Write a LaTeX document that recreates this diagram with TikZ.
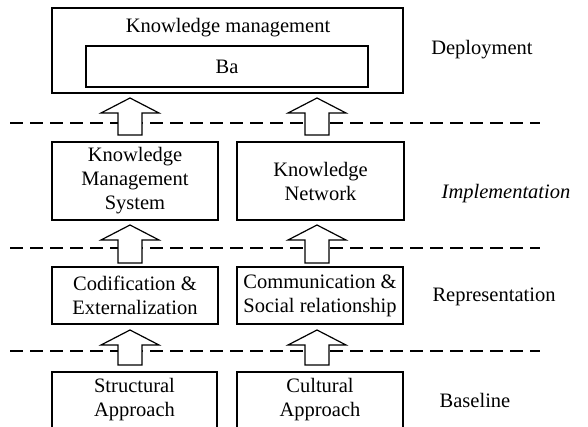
\documentclass[tikz,border=0pt]{standalone}
\usepackage{fontspec}
\setmainfont{Liberation Serif}
\usetikzlibrary{calc}

% outlined upward block arrow from a base coordinate to a tip coordinate
\newcommand{\blockup}[2]{%
  \draw[uparrow] let \p1=(#1), \p2=(#2) in
    (\x1-12pt,\y1) -- (\x1-12pt,\y2-15pt) -- (\x1-29pt,\y2-15pt) -- (\x2,\y2)
    -- (\x1+29pt,\y2-15pt) -- (\x1+12pt,\y2-15pt) -- (\x1+12pt,\y1) -- cycle;}

\begin{document}
\begin{tikzpicture}[x=1pt,y=-1pt,
  txt/.style={font=\fontsize{20.5}{24}\selectfont, align=center, inner sep=0pt},
  box/.style={txt, draw, line width=1.2pt},
  layer/.style={line width=2.8pt, dash pattern=on 13pt off 7pt},
  uparrow/.style={draw, line width=1.2pt, fill=white, line join=miter},
  tier/.style={txt}]
\useasboundingbox (0,0) rectangle (588,426);
\clip (0,0) rectangle (588,426);

% layer separators
\coordinate (s1l) at (10,123);  \coordinate (s1r) at (540,123);
\coordinate (s2l) at (10,248);  \coordinate (s2r) at (540,248);
\coordinate (s3l) at (10,351);  \coordinate (s3r) at (540,351);
\draw[layer] (s1l) -- (s1r);
\draw[layer] (s2l) -- (s2r);
\draw[layer] (s3l) -- (s3r);

% deployment
\node[box, minimum width=351pt, minimum height=85pt] (km) at (227.5,50.5) {};
\node[txt] (kmt) at (228,28) {Knowledge management};
\node[box, minimum width=282pt, minimum height=41pt] (ba) at (227,66.5) {Ba};

% implementation
\node[box, minimum width=166pt, minimum height=78pt] (kms) at (135,181)
  {Knowledge\\Management\\System};
\node[box, minimum width=167pt, minimum height=78pt] (kn) at (320.5,181)
  {Knowledge\\Network};

% representation
\node[box, minimum width=166pt, minimum height=57pt] (cod) at (135,295.5)
  {Codification \&\\Externalization};
\node[box, minimum width=166pt, minimum height=57pt] (com) at (320,295.5)
  {Communication \&\\Social relationship};

% baseline
\node[box, minimum width=165pt, minimum height=56pt] (str) at (134.5,400)
  {Structural\\Approach};
\node[box, minimum width=166pt, minimum height=56pt] (cul) at (320,400)
  {Cultural\\Approach};

% arrows between layers
\coordinate (a1b) at (130,135); \coordinate (a1t) at (130,98);
\coordinate (a2b) at (317,135); \coordinate (a2t) at (317,98);
\coordinate (a3b) at (130,263); \coordinate (a3t) at (130,225);
\coordinate (a4b) at (317,263); \coordinate (a4t) at (317,225);
\coordinate (a5b) at (130,365); \coordinate (a5t) at (130,330);
\coordinate (a6b) at (317,365); \coordinate (a6t) at (317,330);
\blockup{a1b}{a1t}
\blockup{a2b}{a2t}
\blockup{a3b}{a3t}
\blockup{a4b}{a4t}
\blockup{a5b}{a5t}
\blockup{a6b}{a6t}

% layer names
\node[tier] (dep) at (482,50) {Deployment};
\node[tier, font=\fontsize{20.5}{24}\selectfont\itshape] (imp) at (506,194) {Implementation};
\node[tier] (rep) at (494,297) {Representation};
\node[tier] (bas) at (475,400) {Baseline};
\end{tikzpicture}
\end{document}
